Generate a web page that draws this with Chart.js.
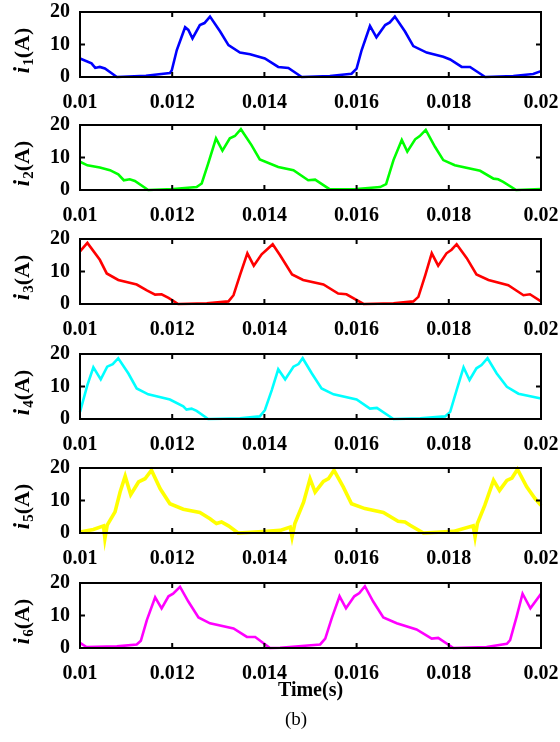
<!DOCTYPE html>
<html><head><meta charset="utf-8">
<script src="https://cdn.jsdelivr.net/npm/chart.js@4.4.0/dist/chart.umd.min.js"></script>
<style>
html,body{margin:0;padding:0;background:#fff;width:560px;height:742px;overflow:hidden}
canvas{position:absolute;left:0}
</style></head><body>
<canvas id="c1" width="560" height="114" style="top:0px"></canvas>
<canvas id="c2" width="560" height="114" style="top:113px"></canvas>
<canvas id="c3" width="560" height="114" style="top:227px"></canvas>
<canvas id="c4" width="560" height="114" style="top:342px"></canvas>
<canvas id="c5" width="560" height="114" style="top:456px"></canvas>
<canvas id="c6" width="560" height="171" style="top:571px"></canvas>
<script>
// ---- data (time in s, current in A) ----
const xTicks = [0.010, 0.012, 0.014, 0.016, 0.018, 0.020];
const xTickLabels = ['0.01', '0.012', '0.014', '0.016', '0.018', '0.02'];
const yTicks = [0, 10, 20];
const yTickLabels = ['0', '10', '20'];
const seriesNames = ['1', '2', '3', '4', '5', '6'];
const xTitle = 'Time(s)';
const caption = '(b)';

const time1 = [0.01,0.01025,0.01033,0.01043,0.01054,0.0108,0.01143,0.01195,0.01199,0.0121,0.01228,0.01235,0.01244,0.0126,0.0127,0.01282,0.01304,0.01322,0.01347,0.01369,0.01401,0.0143,0.01452,0.01481,0.01542,0.01589,0.016,0.01611,0.01629,0.01643,0.01662,0.01672,0.01683,0.01705,0.01723,0.01752,0.01788,0.01803,0.01828,0.01846,0.01879,0.0194,0.01983,0.02];
const cur1 = [5.7,4.2,2.8,3.1,2.6,0,0.4,1.2,2.0,8.3,15.3,14.5,11.9,16,16.6,18.6,14,9.8,7.5,7.0,5.7,3.1,2.8,0,0.3,1.0,2.6,8.3,15.7,12.2,16,16.8,18.6,14,9.5,7.5,6.2,5.4,3.1,3.1,0,0.3,0.9,1.8];

const time2 = [0.01,0.01016,0.01043,0.01065,0.01083,0.01095,0.01108,0.01119,0.01148,0.01202,0.01253,0.01264,0.01278,0.01295,0.01309,0.01325,0.01336,0.01349,0.01372,0.0139,0.0143,0.01463,0.01495,0.0151,0.01542,0.016,0.01651,0.01664,0.0168,0.01698,0.0171,0.01727,0.01737,0.0175,0.0177,0.01788,0.01813,0.01868,0.01897,0.01907,0.01918,0.01946,0.02];
const cur2 = [8.7,7.6,6.9,6.1,4.8,3.0,3.3,2.8,0,0.3,0.9,2.0,8.1,15.9,12.1,15.9,16.6,18.7,13.8,9.4,7.1,6.1,3.0,3.2,0.2,0.3,0.9,1.8,9.2,15.4,11.8,15.6,16.6,18.5,13.3,9.2,7.6,5.9,3.5,3.3,2.5,0,0.3];

const time3 = [0.01,0.01016,0.01043,0.01058,0.01083,0.01123,0.01145,0.01163,0.01177,0.01192,0.01213,0.01275,0.01322,0.01333,0.01347,0.01363,0.01377,0.01394,0.01405,0.01418,0.01434,0.0146,0.01484,0.01528,0.0156,0.01578,0.01615,0.0168,0.01723,0.01734,0.01749,0.01763,0.01777,0.01795,0.01806,0.01817,0.01839,0.0186,0.01886,0.01929,0.01962,0.01976,0.02];
const cur3 = [16.2,18.8,13.6,9.4,7.4,6.0,4.2,2.9,3.0,1.9,0,0.2,0.8,2.7,8.9,15.6,11.8,15.3,16.7,18.4,15.0,9.1,7.4,6.0,3.2,3.0,0,0.2,0.8,2.2,8.9,15.6,11.8,15.6,16.7,18.4,14.1,9.1,7.4,5.8,2.7,3.0,0.8];

const time4 = [0.01,0.01016,0.01029,0.01045,0.01059,0.01071,0.01083,0.01105,0.01123,0.01148,0.01195,0.01224,0.01231,0.01242,0.01253,0.01278,0.01347,0.0139,0.01401,0.01416,0.0143,0.01445,0.01463,0.01474,0.01483,0.01503,0.01524,0.0155,0.016,0.01629,0.01644,0.0168,0.01738,0.01792,0.01803,0.01817,0.01832,0.01845,0.0186,0.01871,0.01884,0.01904,0.01926,0.01951,0.02];
const cur4 = [2.2,10.4,15.9,12.2,16.1,16.9,18.7,14.0,9.4,7.6,6.0,3.9,2.9,3.2,2.5,0,0.2,0.8,2.7,8.9,15.3,12.2,16.1,16.9,18.7,14.0,9.4,7.6,6.0,3.2,3.4,0,0.2,0.8,2.2,8.9,15.9,12.0,15.6,16.6,18.7,14.0,9.9,7.8,6.3];

const time5 = [0.01,0.01029,0.01051,0.01054,0.01059,0.01076,0.01087,0.01098,0.0111,0.01127,0.01141,0.01155,0.01174,0.01195,0.01224,0.0126,0.01282,0.01296,0.01307,0.01322,0.01343,0.01405,0.01434,0.01456,0.0146,0.01466,0.01485,0.01499,0.0151,0.01528,0.01539,0.01551,0.01571,0.01589,0.01618,0.01658,0.0169,0.01705,0.01716,0.01745,0.0181,0.01853,0.01857,0.01862,0.01878,0.01897,0.0191,0.01926,0.01937,0.01949,0.01969,0.01987,0.02];
const cur5 = [0.3,1.1,2.2,-1.7,2.4,6.5,12.6,17.5,11.8,15.7,16.7,19.3,13.6,9.0,7.3,6.3,4.4,2.9,3.4,2.2,0,0.5,0.8,1.8,-1.2,2.9,9.5,16.7,12.6,15.9,16.7,19.3,14.2,9.0,7.5,6.3,3.6,3.4,2.4,0,0.5,2.2,-1.2,2.9,8.5,16.2,13.1,16.2,16.9,19.6,14.2,10.6,8.5];

const time6 = [0.01,0.01014,0.0108,0.01123,0.01132,0.01145,0.01163,0.01177,0.01192,0.01202,0.01217,0.01235,0.01257,0.01282,0.01333,0.01362,0.0138,0.01412,0.01434,0.01521,0.01532,0.01546,0.01563,0.01577,0.01595,0.01606,0.01618,0.01636,0.01658,0.01687,0.0173,0.01763,0.01777,0.0181,0.01882,0.01926,0.01933,0.01947,0.0196,0.01977,0.02];
const cur6 = [1.6,0.3,0.5,1.1,2.2,8.6,15.6,12.2,15.9,16.7,18.8,14.3,9.4,7.6,6.0,3.4,3.4,0,0.1,1.1,2.9,9.1,15.9,12.2,15.9,16.9,19.0,14.3,9.4,7.6,5.7,2.9,3.1,0,0.3,1.3,2.4,9.6,16.7,12.2,16.7];

const times = [time1, time2, time3, time4, time5, time6];
const currents = [cur1, cur2, cur3, cur4, cur5, cur6];
const colors = ['#0000ff', '#00ff00', '#ff0000', '#00ffff', '#ffff00', '#ff00ff'];
const widths = [2.6, 2.6, 2.6, 2.6, 3.6, 2.6];

const SERIF = '"Liberation Serif", "Times New Roman", serif';

const boxPlugin = {
  id: 'boxTicks',
  afterDraw(chart) {
    const ctx = chart.ctx, a = chart.chartArea;
    const xs = chart.scales.x, ys = chart.scales.y;
    ctx.save();
    ctx.strokeStyle = '#000';
    ctx.lineWidth = 2;
    ctx.strokeRect(a.left, a.top, a.right - a.left, a.bottom - a.top);
    const L = 5;
    ctx.beginPath();
    xs.ticks.forEach(t => {
      if (t.value <= xs.min || t.value >= xs.max) return;
      const px = xs.getPixelForValue(t.value);
      ctx.moveTo(px, a.bottom); ctx.lineTo(px, a.bottom - L);
      ctx.moveTo(px, a.top); ctx.lineTo(px, a.top + L);
    });
    ys.ticks.forEach(t => {
      if (t.value <= ys.min || t.value >= ys.max) return;
      const py = ys.getPixelForValue(t.value);
      ctx.moveTo(a.left, py); ctx.lineTo(a.left + L, py);
      ctx.moveTo(a.right, py); ctx.lineTo(a.right - L, py);
    });
    ctx.stroke();
    ctx.restore();
  }
};

const yLabelPlugin = {
  id: 'ylab',
  afterDraw(chart, args, opts) {
    const ctx = chart.ctx, a = chart.chartArea;
    ctx.save();
    ctx.fillStyle = '#000';
    ctx.textBaseline = 'alphabetic';
    ctx.textAlign = 'left';
    const cy = (a.top + a.bottom) / 2 + 6;
    ctx.translate(29, cy);
    ctx.rotate(-Math.PI / 2);
    const f1 = 'italic bold 23px ' + SERIF;
    const f2 = 'bold 15px ' + SERIF;
    const f3 = 'bold 22px ' + SERIF;
    ctx.font = f1; const w1 = ctx.measureText('i').width + 1;
    ctx.font = f2; const w2 = ctx.measureText(opts.sub).width;
    ctx.font = f3; const w3 = ctx.measureText('(A)').width;
    let x = -(w1 + w2 + w3) / 2;
    ctx.font = f1; ctx.fillText('i', x, 0); x += w1;
    ctx.font = f2; ctx.fillText(opts.sub, x, 4); x += w2;
    ctx.font = f3; ctx.fillText('(A)', x, 0);
    ctx.restore();
    if (opts.caption) {
      ctx.save();
      ctx.fillStyle = '#000';
      ctx.font = '19px ' + SERIF;
      ctx.textAlign = 'center';
      ctx.textBaseline = 'alphabetic';
      ctx.fillText(opts.caption, 296, 154);
      ctx.restore();
    }
  }
};

Chart.defaults.color = '#000';
Chart.defaults.font.family = SERIF;

for (let k = 0; k < 6; k++) {
  const last = k === 5;
  const pts = times[k].map((t, j) => ({x: t, y: currents[k][j]}));
  new Chart(document.getElementById('c' + (k + 1)), {
    type: 'line',
    data: {datasets: [{
      data: pts,
      borderColor: colors[k],
      borderWidth: widths[k],
      pointRadius: 0,
      tension: 0,
      fill: false,
      clip: false
    }]},
    options: {
      responsive: false,
      animation: false,
      events: [],
      layout: {padding: {left: 0, right: 19, top: 12, bottom: 0}},
      plugins: {
        legend: {display: false},
        tooltip: {enabled: false},
        ylab: {sub: seriesNames[k], caption: last ? caption : null}
      },
      scales: {
        x: {
          type: 'linear',
          min: 0.01, max: 0.02,
          afterBuildTicks: s => { s.ticks = xTicks.map(v => ({value: v})); },
          afterFit: s => { s.height = last ? 94 : 37; s.paddingLeft = 0; s.paddingRight = 0; },
          grid: {display: false, drawTicks: false},
          border: {display: false},
          ticks: {
            font: {size: 20, weight: 'bold'},
            padding: 14,
            maxRotation: 0,
            autoSkip: false,
            callback: (v, i) => xTickLabels[i]
          },
          title: {
            display: last,
            text: xTitle,
            font: {size: 20, weight: 'bold'},
            padding: {top: 0, bottom: 39}
          }
        },
        y: {
          min: 0, max: 20,
          afterBuildTicks: s => { s.ticks = yTicks.map(v => ({value: v})); },
          afterFit: s => { s.width = 80; s.paddingTop = 0; s.paddingBottom = 0; },
          grid: {display: false, drawTicks: false},
          border: {display: false},
          ticks: {
            font: {size: 20, weight: 'bold'},
            padding: 10,
            callback: (v, i) => yTickLabels[i]
          }
        }
      }
    },
    plugins: [boxPlugin, yLabelPlugin]
  });
}
</script>
</body></html>
